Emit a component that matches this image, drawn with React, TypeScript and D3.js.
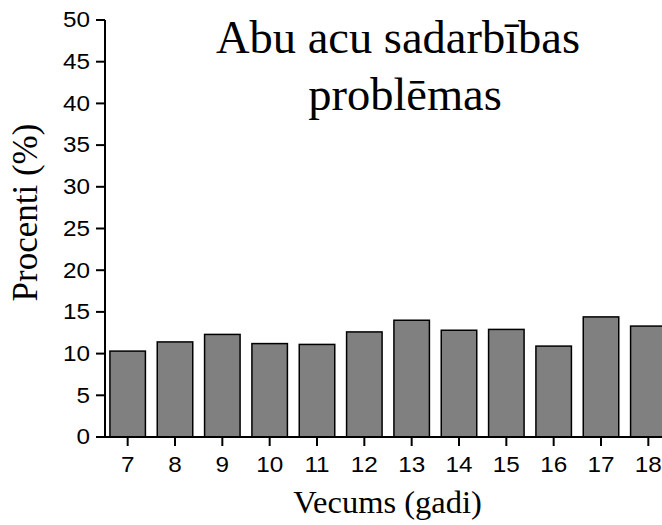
import React from "react";
import * as d3 from "d3";

const categories = ["7", "8", "9", "10", "11", "12", "13", "14", "15", "16", "17", "18"];
const values = [10.3, 11.4, 12.3, 11.2, 11.1, 12.6, 14.0, 12.8, 12.9, 10.9, 14.4, 13.3];
const yTicks = [0, 5, 10, 15, 20, 25, 30, 35, 40, 45, 50];
const titleLines = ["Abu acu sadarbības", "problēmas"];
const xLabel = "Vecums (gadi)";
const yLabel = "Procenti (%)";

const W = 662;
const H = 525;
const axisX = 105;
const axisY = 437;
const sx = 1.13;

export default function App() {
  const x = d3
    .scaleBand<string>()
    .domain(categories)
    .range([104, 672])
    .paddingInner(0.25)
    .paddingOuter(0.125);
  const y = d3.scaleLinear().domain([0, 50]).range([437, 20]);

  return (
    <svg
      width={W}
      height={H}
      style={{ position: "absolute", left: 0, top: 0, background: "#fff" }}
    >
      <rect x={0} y={0} width={W} height={H} fill="#fff" />
      {categories.map((c, i) => (
        <rect
          key={c}
          x={x(c)!}
          y={y(values[i])}
          width={x.bandwidth()}
          height={y(0) - y(values[i])}
          fill="#808080"
          stroke="#000"
          strokeWidth={1.5}
        />
      ))}
      {/* y axis */}
      <line x1={axisX} x2={axisX} y1={y(50)} y2={axisY} stroke="#000" strokeWidth={2} />
      {yTicks.map((t) => (
        <g key={t}>
          <line x1={96} x2={axisX} y1={y(t)} y2={y(t)} stroke="#000" strokeWidth={2} />
          <text
            transform={`translate(90,${y(t)}) scale(${sx},1)`}
            dy="0.34em"
            textAnchor="end"
            fontFamily="'Liberation Sans', Arial, sans-serif"
            fontSize={21.5}
            fill="#000"
          >
            {t}
          </text>
        </g>
      ))}
      {/* x axis */}
      <line x1={96} x2={W} y1={axisY} y2={axisY} stroke="#000" strokeWidth={2} />
      {categories.map((c) => {
        const cx = x(c)! + x.bandwidth() / 2;
        return (
          <g key={c}>
            <line x1={cx} x2={cx} y1={axisY} y2={446} stroke="#000" strokeWidth={2} />
            <text
              transform={`translate(${cx},472) scale(${sx},1)`}
              textAnchor="middle"
              fontFamily="'Liberation Sans', Arial, sans-serif"
              fontSize={21.5}
              fill="#000"
            >
              {c}
            </text>
          </g>
        );
      })}
      <text
        x={387.5}
        y={513}
        textAnchor="middle"
        fontFamily="'Liberation Serif', 'Times New Roman', serif"
        fontSize={32.5}
        fill="#000"
      >
        {xLabel}
      </text>
      <text
        transform={`translate(37,212.5) rotate(-90)`}
        textAnchor="middle"
        fontFamily="'Liberation Serif', 'Times New Roman', serif"
        fontSize={35}
        fill="#000"
      >
        {yLabel}
      </text>
      <text
        x={398}
        y={53}
        textAnchor="middle"
        fontFamily="'Liberation Serif', 'Times New Roman', serif"
        fontSize={46.5}
        fill="#000"
      >
        {titleLines[0]}
      </text>
      <text
        x={405}
        y={110}
        textAnchor="middle"
        fontFamily="'Liberation Serif', 'Times New Roman', serif"
        fontSize={46.5}
        fill="#000"
      >
        {titleLines[1]}
      </text>
    </svg>
  );
}
